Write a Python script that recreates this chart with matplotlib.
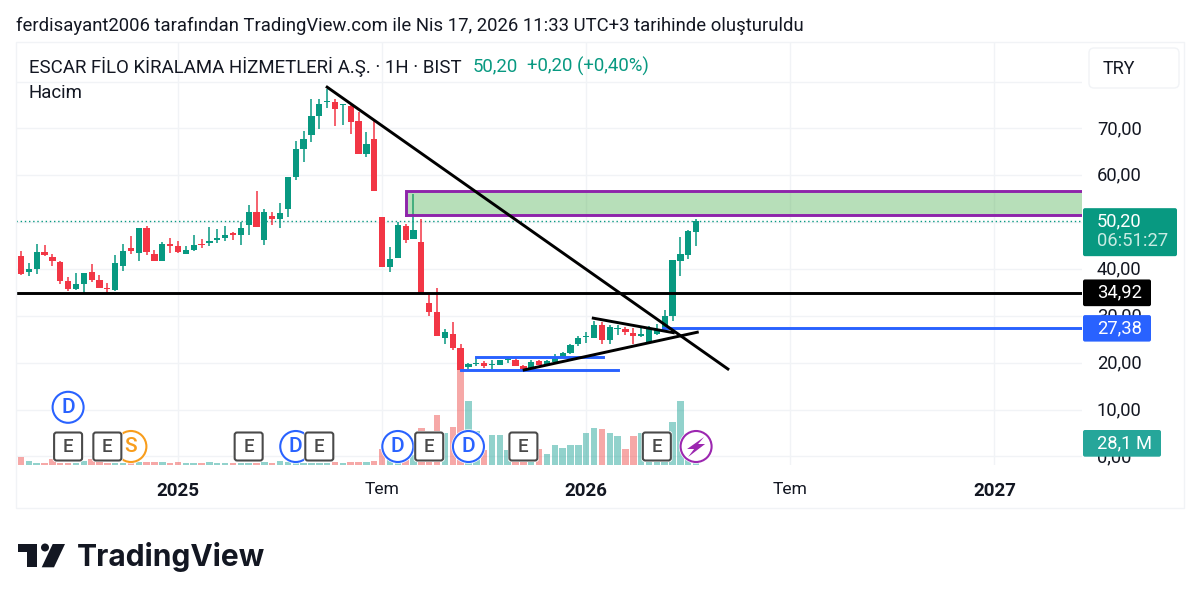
import numpy as np
import matplotlib
matplotlib.use('Agg')
import matplotlib.pyplot as plt
from matplotlib.patches import Circle, FancyBboxPatch, Polygon, Rectangle
from matplotlib.transforms import ScaledTranslation

plt.rcParams['font.family'] = ['Roboto', 'DejaVu Sans']

# weekly candles, the first one is cut by the left edge
opens = [39.9, 42.7, 39.3, 40.0, 43.7, 42.6, 41.4, 37.5, 35.8, 36.7,
         39.3, 37.7, 36.0, 35.6, 40.7, 44.4, 43.5, 48.7, 43.1, 41.8,
         45.4, 44.8, 43.2, 44.1, 45.4, 45.5, 46.1, 46.6, 47.7, 47.3,
         49.3, 52.2, 46.2, 51.2, 50.6, 52.7, 59.6, 65.6, 68.6, 72.6,
         75.7, 75.7, 74.9, 74.8, 71.5, 64.6, 67.8, 51.0, 40.5, 42.4,
         49.2, 46.4, 45.8, 32.8, 30.8, 25.2, 26.2, 23.2, 19.0, 19.7,
         20.0, 19.5, 19.5, 20.5, 20.5, 19.3, 18.5, 20.4, 19.6, 20.2,
         21.0, 22.0, 24.0, 25.5, 25.3, 28.1, 24.8, 27.1, 27.1, 26.4,
         25.6, 24.2, 26.1, 27.2, 30.0, 41.6, 42.9, 47.8]
highs = [43.5, 43.9, 41.3, 45.3, 45.1, 43.2, 41.7, 38.2, 39.2, 39.2,
         41.0, 38.7, 37.1, 42.9, 45.3, 47.0, 48.8, 49.2, 44.0, 45.7,
         46.6, 46.0, 44.8, 47.3, 46.3, 48.9, 48.5, 49.2, 47.8, 50.0,
         53.7, 56.6, 52.8, 52.2, 54.1, 59.6, 67.4, 69.5, 76.3, 76.2,
         78.4, 76.3, 75.3, 75.3, 73.4, 69.2, 71.8, 51.0, 44.6, 50.0,
         49.5, 56.1, 50.7, 34.5, 35.9, 27.1, 28.6, 24.0, 19.9, 21.1,
         20.3, 20.5, 20.6, 21.2, 21.0, 19.5, 20.5, 20.6, 20.6, 21.9,
         22.3, 24.0, 25.7, 26.6, 28.9, 28.6, 28.1, 28.1, 27.7, 27.3,
         27.3, 27.9, 28.3, 31.3, 42.0, 46.9, 48.3, 50.6]
lows = [39.8, 38.8, 38.6, 38.9, 42.8, 40.7, 36.8, 35.3, 35.5, 34.7,
        37.2, 35.9, 34.8, 35.3, 39.5, 43.2, 41.6, 42.9, 41.7, 41.7,
        43.5, 43.5, 43.1, 43.9, 44.4, 44.8, 45.5, 45.9, 46.1, 45.1,
        47.3, 48.9, 45.2, 49.3, 48.7, 51.0, 58.9, 62.8, 67.0, 69.9,
        74.3, 70.6, 70.7, 68.7, 64.5, 63.8, 56.6, 40.4, 39.4, 42.3,
        45.6, 46.4, 34.7, 30.0, 25.7, 23.9, 22.8, 18.3, 18.7, 19.2,
        18.8, 18.5, 19.4, 20.0, 19.2, 18.2, 18.3, 19.4, 19.5, 20.0,
        20.9, 21.9, 23.6, 24.2, 25.2, 24.0, 24.0, 25.9, 25.9, 23.9,
        25.4, 24.0, 26.0, 27.0, 28.8, 38.4, 42.1, 44.9]
closes = [43.4, 39.0, 39.9, 43.7, 42.9, 41.6, 37.5, 35.8, 36.7, 39.2,
          37.7, 36.0, 35.8, 41.2, 43.8, 43.8, 48.7, 43.7, 41.8, 45.4,
          44.8, 43.6, 44.1, 45.1, 45.2, 46.0, 46.7, 47.3, 47.2, 48.8,
          52.1, 49.0, 52.2, 50.6, 52.0, 59.6, 65.5, 67.7, 72.6, 75.1,
          75.9, 74.1, 75.1, 71.4, 64.6, 66.6, 56.6, 40.5, 42.2, 49.3,
          46.1, 48.3, 34.7, 30.8, 25.7, 26.5, 23.2, 18.5, 19.7, 20.0,
          19.3, 19.8, 20.5, 20.7, 19.2, 18.6, 20.2, 19.6, 20.3, 21.1,
          22.0, 23.8, 25.2, 25.7, 28.1, 24.8, 27.6, 27.3, 26.5, 25.6,
          26.1, 27.2, 27.0, 30.0, 42.0, 43.1, 48.2, 50.2]
volumes = [4, 7.5, 3.5, 2, 2, 6, 2, 2, 2, 4,
           6, 3, 2, 2, 2, 2, 2.5, 3, 2.5, 3,
           1.5, 3, 1.5, 2, 2, 3, 2, 2, 1.5, 2,
           2, 2, 3, 1.5, 4, 2.5, 2, 2, 2, 2,
           2, 2.5, 1.5, 2.5, 2.5, 3, 4, 16, 20, 5,
           5, 10, 37, 10, 50, 32, 38, 100, 64, 34,
           15, 30, 30, 15, 5, 5, 5, 16, 10.5, 20,
           16.5, 20, 20, 32, 37, 36, 32, 29, 16, 29,
           32, 34, 8, 8, 43, 64, 10, 28.1]

price_ticks = [0, 10, 20, 30, 40, 50, 60, 70]
price_tick_labels = ['0,00', '10,00', '20,00', '30,00', '40,00', '', '60,00', '70,00']
date_ticks = [20, 46, 72, 98, 124]
date_labels = ['2025', 'Tem', '2026', 'Tem', '2027']

last_price = 50.20
support_price = 34.92
blue_price = 27.38
zone_low = 51.45
zone_high = 56.6
zone_start = 49.05

# drawings: (bar, price) at both ends
down_trend = ([39.0, 90.05], [78.8, 18.65])
tri_upper = ([72.9, 83.1], [29.5, 26.4])
tri_lower = ([64.1, 86.15], [18.45, 26.5])
blue_upper = ([57.9, 74.1], [21.3, 21.3])
blue_lower = ([56.0, 76.0], [18.4, 18.4])
blue_start = 81.8

# events, by bar
earnings_bars = [6, 11, 29, 38, 52, 64, 81]
dividend_bars = [35, 48, 57]
split_bars = [14]
upper_dividend_bars = [6]
flash_bars = [86]

GREEN = '#089981'
RED = '#f23645'
TEXT = '#131722'
GRID = '#f1f3f6'
BLUE = '#2962ff'
PURPLE = '#8e24aa'

# pixel layout of the reference
W, H = 1200, 603
L, R, T, B = 16, 1082, 42, 464.5
Y0, PX_PER_UNIT = 456.4, 4.686
X0, PX_PER_BAR = 21, 7.85

fig = plt.figure(figsize=(W / 100, H / 100), dpi=100, facecolor='white')
ax = fig.add_axes([L / W, 1 - B / H, (R - L) / W, (B - T) / H])
ax.set_xlim((L - X0) / PX_PER_BAR, (R - X0) / PX_PER_BAR)
ax.set_ylim((Y0 - B) / PX_PER_UNIT, (Y0 - T) / PX_PER_UNIT)
for s in ax.spines.values():
    s.set_visible(False)

bars = np.arange(len(opens)) - 1
opens = np.array(opens)
closes = np.array(closes)
is_up = closes >= opens
colors = [GREEN if u else RED for u in is_up]

# volume on its own scale, at the bottom
vol = ax.twinx()
vol.set_ylim(0, B - T)
vol.set_yticks([])
for s in vol.spines.values():
    s.set_visible(False)
vol.set_zorder(1)
vol_colors = ['#26a69a' if u else '#ef5350' for u in is_up]
vol.bar(bars, volumes, width=0.82, color=vol_colors, alpha=0.5, lw=0)

# grid and axis labels
ax.yaxis.tick_right()
ax.set_yticks(price_ticks)
ax.set_yticklabels(price_tick_labels, fontsize=13.2, color=TEXT)
ax.set_xticks(date_ticks)
ax.set_xticklabels(date_labels, fontsize=12.6, color=TEXT)
for lab in ax.get_xticklabels():
    if lab.get_text() != 'Tem':
        lab.set_fontweight('bold')
        lab.set_fontsize(13.5)
ax.tick_params(axis='y', length=0, pad=10.8)
ax.tick_params(axis='x', length=0, pad=12.4)
# the price labels sit a little above their grid lines
for lab in ax.get_yticklabels():
    lab.set_transform(lab.get_transform() + ScaledTranslation(0, 1.5 / 100, fig.dpi_scale_trans))
ax.grid(True, color=GRID, lw=1)
ax.axhline(80, color=GRID, lw=1)
ax.set_axisbelow(True)

price = fig.add_axes(ax.get_position(), sharex=ax, sharey=ax, frameon=False)
price.set_zorder(2)
price.tick_params(left=False, right=False, bottom=False, top=False,
                  labelleft=False, labelright=False, labelbottom=False)
price.patch.set_alpha(0)

price.axhline(last_price, color=GREEN, lw=1, ls=(0, (1, 2)), zorder=1)
price.vlines(bars, lows, highs, colors=colors, lw=1.1, zorder=2)
bottoms = np.minimum(opens, closes)
heights = np.maximum(np.abs(closes - opens), 0.2)
price.bar(bars, heights, bottom=bottoms, width=0.8, color=colors, lw=0, zorder=3)

# drawings
price.add_patch(Rectangle((zone_start, zone_low), 500, zone_high - zone_low, facecolor='#4caf50',
                          alpha=0.4, lw=0, zorder=4))
price.plot([zone_start, zone_start, 500], [zone_low, zone_high, zone_high], color=PURPLE, lw=2.1, zorder=5,
           solid_joinstyle='miter')
price.plot([zone_start, 500], [zone_low, zone_low], color=PURPLE, lw=2.1, zorder=5)
price.axhline(support_price, color='black', lw=2.1, zorder=6)
price.plot([blue_start, 500], [blue_price, blue_price], color=BLUE, lw=2.1, zorder=6)
for line in (blue_upper, blue_lower):
    price.plot(line[0], line[1], color=BLUE, lw=2.1, zorder=6)
for line in (down_trend, tri_upper, tri_lower):
    price.plot(line[0], line[1], color='black', lw=2.1, zorder=7)
price.set_xlim(ax.get_xlim())
price.set_ylim(ax.get_ylim())

# everything around the plot goes on a pixel overlay
over = fig.add_axes([0, 0, 1, 1], frameon=False)
over.set_xlim(0, W)
over.set_ylim(H, 0)
over.set_xticks([])
over.set_yticks([])
over.set_zorder(5)
over.patch.set_alpha(0)

over.add_patch(Rectangle((15.5, 42), 1168.5, 466, fill=False, edgecolor=GRID, lw=1))


def bar_x(i):
    return X0 + PX_PER_BAR * i


def price_y(p):
    return Y0 - PX_PER_UNIT * p


def tag(x0, x1, y0, y1, color):
    over.add_patch(FancyBboxPatch((x0, y0), x1 - x0, y1 - y0, boxstyle='round,pad=0,rounding_size=2',
                                  facecolor=color, edgecolor='none', zorder=5))


tag(1083, 1177, price_y(last_price) - 13, price_y(last_price) + 35, GREEN)
over.text(1097, 221, '50,20', color='white', fontsize=13.2, va='center', zorder=6)
over.text(1097, 241, '06:51:27', color='#c9ebe3', fontsize=13.2, va='center', zorder=6)
tag(1083, 1151, price_y(support_price) - 13.3, price_y(support_price) + 13.4, 'black')
over.text(1097, price_y(support_price), '34,92', color='white', fontsize=13.2, va='center', zorder=6)
tag(1083, 1151, price_y(blue_price) - 13, price_y(blue_price) + 13.5, BLUE)
over.text(1097, price_y(blue_price), '27,38', color='white', fontsize=13.2, va='center', zorder=6)
tag(1083, 1161, 430, 456.7, '#26a69a')
over.text(1097, 443, '28,1 M', color='white', fontsize=13.2, va='center', zorder=6)

over.add_patch(FancyBboxPatch((1089, 48), 90, 40, boxstyle='round,pad=0,rounding_size=5',
                              facecolor='white', edgecolor=GRID, lw=1))
over.text(1103, 69, 'TRY', color=TEXT, fontsize=13, va='center')

# header texts
over.text(16, 25.8, 'ferdisayant2006 tarafından TradingView.com ile Nis 17, 2026 11:33 UTC+3 tarihinde oluşturuldu',
          color=TEXT, fontsize=13.36, va='center')
over.text(29, 66.8, 'ESCAR FİLO KİRALAMA HİZMETLERİ A.Ş. · 1H · BIST', color=TEXT, fontsize=13.44, va='center')
over.text(473, 66.8, '50,20', color=GREEN, fontsize=13.4, va='center')
over.text(527, 66.8, '+0,20 (+0,40%)', color=GREEN, fontsize=13.4, va='center')
over.text(29, 93.5, 'Hacim', color=TEXT, fontsize=13.4, va='center')


def round_event(i, y, letter, color, z):
    over.add_patch(Circle((bar_x(i), y), 17.2, facecolor='white', edgecolor='none', zorder=z))
    over.add_patch(Circle((bar_x(i), y), 15.5, facecolor='white', edgecolor=color, lw=1.5, zorder=z))
    over.text(bar_x(i), y, letter, color=color, fontsize=15, ha='center', va='center', fontweight='medium', zorder=z)


for i in upper_dividend_bars:
    round_event(i, 407.3, 'D', BLUE, 3)
for i in split_bars:
    round_event(i, 446.5, 'S', '#f89d1c', 3)
for i in dividend_bars:
    round_event(i, 446.5, 'D', BLUE, 3)
for i in flash_bars:
    round_event(i, 446.5, '', '#9c27b0', 3)
    x = bar_x(i)
    over.add_patch(Polygon([(x + 8, 437), (x - 9, 449), (x - 2, 449), (x - 8, 457), (x + 9, 444), (x + 2, 444)],
                           facecolor='#9c27b0', edgecolor='none', zorder=4))
for i in earnings_bars:
    x = bar_x(i)
    over.add_patch(FancyBboxPatch((x - 15.5, 431), 31, 31, boxstyle='round,pad=0,rounding_size=3',
                                  facecolor='white', edgecolor='none', zorder=4))
    over.add_patch(FancyBboxPatch((x - 14, 432.5), 28, 28, boxstyle='round,pad=0,rounding_size=2.5',
                                  facecolor='white', edgecolor='#4a4a4a', lw=1.5, zorder=4))
    over.text(x, 446.5, 'E', color='#4a4a4a', fontsize=13.5, ha='center', va='center', fontweight='medium', zorder=4)

# TradingView logo
over.add_patch(Polygon([(18.3, 544), (36.7, 544), (36.7, 567.3), (27.3, 567.3), (27.3, 552.3), (18.3, 552.3)],
                       facecolor=TEXT, edgecolor='none'))
over.add_patch(Circle((45, 547.5), 4, facecolor=TEXT, edgecolor='none'))
over.add_patch(Polygon([(52.7, 544), (65, 544), (54, 567.3), (41.7, 567.3)], facecolor=TEXT, edgecolor='none'))
over.text(77, 557, 'TradingView', color=TEXT, fontsize=21.6, va='center', fontweight='bold', family=['Inter', 'Roboto'])

fig.savefig('out.png', dpi=100, facecolor='white')
